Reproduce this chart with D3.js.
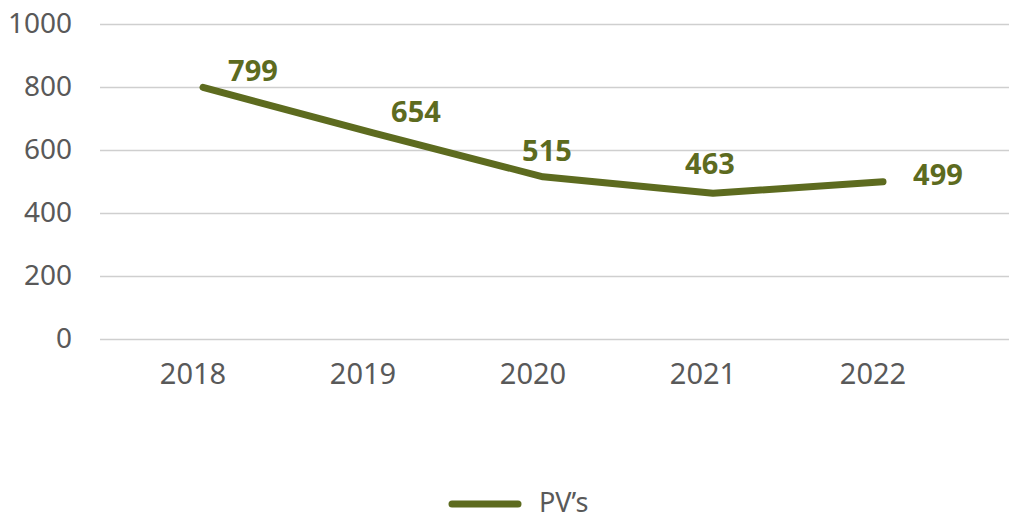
<!DOCTYPE html>
<html>
<head>
<meta charset="utf-8">
<script src="https://cdn.jsdelivr.net/npm/d3@7"></script>
<style>
  body { margin: 0; background: #fff; }
  text { font-family: "Noto Sans", sans-serif; }
</style>
</head>
<body>
<div id="graph"></div>
<script>
var width = 1009, height = 520;

// data
var years = ["2018", "2019", "2020", "2021", "2022"];
var pvs = [799, 654, 515, 463, 499];
var yTicks = [0, 200, 400, 600, 800, 1000];
var seriesName = "PV\u2019s";

var green = "#5d6b1f", grey = "#595959";

var svg = d3.select('#graph').append('svg')
    .attr('width', width)
    .attr('height', height);

var x = d3.scaleBand().domain(years).range([118, 968]);
var y = d3.scaleLinear().domain([0, 1000]).range([339, 24]);
var cx = function(d) { return x(d) + x.bandwidth() / 2; };

// gridlines + y labels
var yAxis = svg.append("g")
    .attr("transform", "translate(100,0)")
    .call(d3.axisLeft(y).tickValues(yTicks).tickFormat(d3.format("d"))
      .tickSize(-(width - 100)).tickPadding(28));
yAxis.select(".domain").remove();
yAxis.selectAll(".tick line").attr("stroke", "#cfcfcf").attr("stroke-width", 1.5);
yAxis.selectAll(".tick text")
    .attr("fill", grey)
    .style("font-size", "28px")
    .attr("font-family", "Noto Sans");

// x labels (sit a little left of the points, as in the original)
var xAxis = svg.append("g")
    .attr("transform", "translate(0,339)")
    .call(d3.axisBottom(x).tickSize(0).tickPadding(24));
xAxis.select(".domain").remove();
xAxis.selectAll(".tick text")
    .attr("dx", -10)
    .attr("fill", grey)
    .style("font-size", "29px")
    .attr("font-family", "Noto Sans");

// line
var line = d3.line()
    .x(function(d, i) { return cx(years[i]); })
    .y(function(d) { return y(d); });

svg.append("path")
    .datum(pvs)
    .attr("fill", "none")
    .attr("stroke", green)
    .attr("stroke-width", 7)
    .attr("stroke-linecap", "round")
    .attr("stroke-linejoin", "round")
    .attr("d", line);

// data labels (manually placed like the original)
var labelOffsets = [[50, -17], [43, -21], [4, -26], [-3, -30], [55, -7]];
svg.selectAll(".lbl")
    .data(pvs)
  .enter().append("text")
    .attr("class", "lbl")
    .attr("x", function(d, i) { return cx(years[i]) + labelOffsets[i][0]; })
    .attr("y", function(d, i) { return y(d) + labelOffsets[i][1]; })
    .attr("dy", "0.36em")
    .attr("text-anchor", "middle")
    .attr("fill", green)
    .style("font-size", "29px")
    .style("font-weight", "bold")
    .text(function(d) { return d; });

// legend
var legend = svg.append("g");
legend.append("line")
    .attr("x1", 452).attr("x2", 518)
    .attr("y1", 504).attr("y2", 504)
    .attr("stroke", green)
    .attr("stroke-width", 7)
    .attr("stroke-linecap", "round");
legend.append("text")
    .attr("x", 539).attr("y", 512)
    .attr("fill", grey)
    .style("font-size", "27px")
    .text(seriesName);
</script>
</body>
</html>
